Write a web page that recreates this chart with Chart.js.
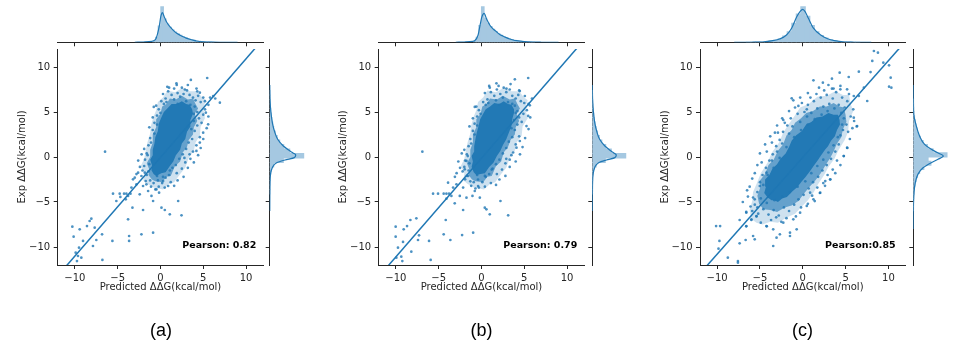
<!DOCTYPE html>
<html><head><meta charset="utf-8">
<script src="https://cdn.jsdelivr.net/npm/chart.js@4.4.1/dist/chart.umd.min.js"></script>
<style>
html,body{margin:0;padding:0;background:#fff;}
#wrap{position:relative;width:955px;height:355px;overflow:hidden;background:#fff;}
#wrap canvas{position:absolute;left:0;top:0;}
.cap{position:absolute;width:60px;margin-left:-30px;text-align:center;font:18px "Liberation Sans",Arial,sans-serif;line-height:18px;color:#000;}
.pear{position:absolute;font:bold 9.5px "DejaVu Sans";line-height:10px;color:#000;white-space:nowrap;}
</style></head><body><div id="wrap"></div>
<script>
// ---------------- DATA ----------------
const tickValues = [-10, -5, 0, 5, 10];
const tickLabels = ['\u221210', '\u22125', '0', '5', '10'];
const axisRange = [-12, 12];
const xTitle = 'Predicted \u0394\u0394G(kcal/mol)';
const yTitle = 'Exp \u0394\u0394G(kcal/mol)';
const panelLabels = ['(a)', '(b)', '(c)'];
const pearsonTexts = ['Pearson: 0.82', 'Pearson: 0.79', 'Pearson:0.85'];

// regression lines (end points read at x = -12 and x = 12)
const regX = [-12, 12];
const regYA = [-13.21, 13.11];
const regYB = [-13.30, 13.02];
const regYC = [-12.95, 12.85];

// dense cores (solid), mid-density and sparse cloud outlines, data coords
const coreA = [[-0.5,-2.1],[-0.8,-1.9],[-1.1,-1.4],[-1.0,-0.9],[-1.2,-0.3],[-0.9,0.2],[-0.9,0.8],[-0.7,1.5],[-0.6,2.2],[-0.3,2.9],[-0.2,3.7],[0.1,4.4],[0.4,5.0],[0.8,5.4],[1.3,5.9],[1.9,5.9],[2.5,6.2],[3.0,5.9],[3.4,5.8],[3.7,5.3],[3.8,4.8],[3.5,4.1],[3.5,3.4],[3.1,2.8],[2.9,2.0],[2.5,1.5],[2.3,0.8],[1.8,0.2],[1.5,-0.5],[1.1,-1.0],[0.6,-1.7],[0.1,-1.8]];
const midA = [[-0.6,-2.7],[-1.0,-2.5],[-1.4,-2.0],[-1.3,-1.4],[-1.6,-0.7],[-1.2,0.0],[-1.2,0.8],[-0.9,1.6],[-0.9,2.5],[-0.5,3.3],[-0.5,4.2],[0.0,4.8],[0.2,5.6],[0.7,5.9],[1.1,6.5],[1.8,6.4],[2.5,6.8],[3.2,6.4],[3.8,6.5],[4.1,5.9],[4.4,5.4],[4.0,4.8],[4.3,4.0],[3.9,3.3],[3.8,2.5],[3.3,1.9],[3.1,1.1],[2.6,0.5],[2.3,-0.5],[1.7,-1.0],[1.2,-2.1],[0.7,-2.2],[0.2,-2.8]];
const cloudA = [[-0.8,-3.4],[-1.5,-3.0],[-2.0,-2.6],[-1.9,-1.8],[-2.3,-1.0],[-1.9,-0.2],[-1.7,0.8],[-1.5,1.7],[-1.2,2.6],[-1.1,3.5],[-0.8,4.5],[-0.5,5.2],[-0.3,6.1],[0.3,6.6],[0.8,7.4],[1.7,7.2],[2.6,7.7],[3.4,7.3],[4.3,7.3],[4.8,6.7],[5.3,6.3],[5.0,5.4],[5.2,4.3],[4.7,3.4],[4.6,2.4],[4.1,1.6],[3.9,0.7],[3.3,-0.1],[2.9,-1.2],[2.3,-1.9],[1.6,-2.8],[1.0,-3.0],[0.3,-3.6]];
const coreB = [[-0.6,-2.0],[-0.9,-1.7],[-1.15,-1.1],[-1.0,-0.5],[-1.15,0.1],[-0.85,0.6],[-0.85,1.2],[-0.7,2.0],[-0.55,2.7],[-0.35,3.4],[-0.15,4.2],[0.2,4.8],[0.5,5.3],[1.0,5.6],[1.5,6.0],[2.1,5.9],[2.6,6.2],[3.1,5.9],[3.5,5.8],[3.8,5.3],[3.8,4.9],[3.6,4.2],[3.5,3.44],[3.2,2.7],[2.9,1.96],[2.5,1.3],[2.2,0.67],[1.8,0.1],[1.4,-0.63],[0.9,-1.1],[0.4,-1.8],[-0.1,-1.9]];
const midB = [[-0.7,-2.7],[-1.1,-2.5],[-1.5,-2.0],[-1.4,-1.4],[-1.7,-0.7],[-1.3,0.0],[-1.3,0.8],[-1.0,1.6],[-1.0,2.5],[-0.6,3.3],[-0.6,4.2],[-0.1,4.8],[0.1,5.6],[0.6,5.9],[1.0,6.5],[1.8,6.4],[2.5,6.8],[3.3,6.4],[3.9,6.5],[4.2,5.9],[4.5,5.4],[4.1,4.8],[4.4,4.0],[4.0,3.3],[3.9,2.5],[3.4,1.9],[3.1,1.1],[2.6,0.5],[2.3,-0.5],[1.7,-1.0],[1.2,-2.1],[0.7,-2.2],[0.2,-2.8]];
const cloudB = [[-0.9,-3.4],[-1.6,-3.0],[-2.1,-2.6],[-2.0,-1.8],[-2.4,-1.0],[-2.0,-0.2],[-1.8,0.8],[-1.6,1.7],[-1.3,2.6],[-1.2,3.5],[-0.9,4.5],[-0.6,5.2],[-0.4,6.1],[0.2,6.6],[0.7,7.4],[1.7,7.2],[2.6,7.7],[3.5,7.3],[4.4,7.3],[4.9,6.7],[5.4,6.3],[5.1,5.4],[5.4,4.3],[4.8,3.4],[4.7,2.4],[4.1,1.6],[3.9,0.7],[3.3,-0.1],[2.9,-1.2],[2.3,-1.9],[1.6,-2.8],[1.0,-3.0],[0.3,-3.6]];
const coreC = [[-3.65,-4.8],[-4.1,-4.5],[-4.5,-4.0],[-4.3,-3.3],[-4.4,-2.5],[-3.9,-2.0],[-3.55,-1.3],[-3.0,-0.8],[-2.6,-0.2],[-2.0,0.4],[-1.6,1.1],[-1.3,1.8],[-0.8,2.4],[-0.1,2.9],[0.4,3.6],[1.0,3.9],[1.6,4.4],[2.3,4.5],[3.0,4.9],[3.6,4.7],[4.1,4.7],[4.3,4.1],[4.35,3.6],[4.0,3.0],[3.75,2.3],[3.3,1.8],[2.95,1.2],[2.6,0.8],[2.15,0.2],[1.8,-0.3],[1.35,-0.9],[0.9,-1.5],[0.35,-2.2],[-0.1,-2.7],[-0.65,-3.35],[-1.2,-3.8],[-1.85,-4.45],[-2.4,-4.6],[-2.9,-5.0],[-3.3,-4.8]];
const midC = [[-4.6,-5.8],[-5.1,-5.2],[-5.3,-4.3],[-5.0,-3.5],[-5.0,-2.6],[-4.4,-1.9],[-4.0,-0.9],[-3.4,-0.3],[-2.9,0.7],[-2.3,1.4],[-1.9,2.4],[-1.3,3.0],[-0.9,3.8],[-0.2,4.3],[0.4,4.9],[1.2,5.1],[2.0,5.6],[2.8,5.6],[3.6,6.0],[4.3,5.6],[4.8,5.5],[5.0,4.7],[5.1,3.9],[4.7,3.1],[4.5,2.2],[4.0,1.5],[3.6,0.6],[3.2,-0.1],[2.6,-1.0],[2.1,-1.8],[1.4,-2.7],[0.8,-3.3],[0.1,-4.1],[-0.5,-4.9],[-1.3,-5.4],[-2.1,-5.6],[-3.0,-6.1],[-3.8,-5.9]];
const cloudC = [[-6.0,-6.9],[-6.2,-5.9],[-5.9,-4.9],[-5.8,-3.9],[-5.4,-3.0],[-4.9,-1.8],[-4.1,-0.6],[-3.6,0.5],[-2.7,1.7],[-2.3,2.7],[-1.6,3.7],[-1.0,4.5],[-0.3,5.5],[0.7,5.9],[1.7,6.7],[2.8,6.8],[3.8,7.3],[4.7,6.9],[5.4,6.9],[5.6,5.9],[5.9,5.1],[5.4,4.0],[5.3,2.8],[4.9,1.9],[4.2,0.8],[3.7,-0.2],[3.0,-1.1],[2.5,-2.0],[1.8,-3.0],[1.3,-3.9],[0.6,-4.8],[-0.1,-5.5],[-0.9,-6.3],[-1.8,-6.7],[-2.9,-7.3],[-3.8,-7.2],[-4.7,-7.5],[-5.4,-7.3]];

// individual points (outliers + cloud fringe)
const pointsA = [[-6.47,0.59],[-0.78,5.56],[1.87,8.19],[3.55,8.56],[5.46,8.78],[1.01,7.7],[2.85,7.5],[4.21,7.6],[4.6,7.15],[5.0,6.6],[6.16,6.78],[6.94,6.04],[5.3,4.93],[5.57,3.63],[4.99,2.7],[4.6,1.6],[4.2,0.67],[-3.2,-2.48],[-2.8,-3.04],[-3.39,-3.4],[-5.54,-4.07],[-4.76,-4.07],[-4.25,-4.07],[-3.98,-4.07],[-3.78,-4.33],[-4.05,-4.7],[-3.5,-4.07],[-2.42,-4.15],[-2.03,-3.22],[-1.64,-3.04],[-1.44,-3.78],[-1.05,-4.33],[-0.47,-3.6],[0.31,-2.67],[0.9,-3.22],[-0.16,-3.96],[-0.86,-4.89],[0.12,-5.63],[0.51,-5.89],[1.09,-6.37],[2.07,-4.89],[2.46,-6.48],[-3.27,-5.63],[-2.03,-5.89],[-3.78,-6.93],[-3.66,-8.78],[-3.66,-9.33],[-2.22,-8.59],[-0.86,-8.41],[-5.61,-9.33],[-6.82,-8.59],[-8.27,-7.11],[-8.07,-6.85],[-8.58,-7.67],[-9.43,-8.04],[-7.68,-7.85],[-10.29,-7.74],[-10.14,-8.85],[-9.51,-10.07],[-9.04,-9.33],[-7.49,-9.22],[-7.88,-9.89],[-9.9,-10.63],[-9.63,-11.0],[-9.24,-11.19],[-6.78,-11.44],[-9.75,-11.56],[-4.68,-4.44],[-5.15,-4.89],[-2.61,-1.74],[-2.22,-2.11],[-1.83,-1.74],[-1.72,-2.67],
[0.3,7.0],[0.6,6.5],[0.9,7.3],[1.3,6.9],[1.6,7.6],[2.0,7.1],[2.3,6.7],[2.7,7.0],[3.1,7.4],[3.4,6.9],[3.8,6.6],[4.1,6.3],[4.4,6.8],[4.7,6.1],[5.2,6.2],[0.1,6.2],[-0.2,5.3],[-0.4,4.6],[-0.7,3.8],[-0.9,3.0],[-1.2,2.1],[-1.4,1.3],[-1.6,0.4],[-1.8,-0.3],[-1.9,-1.0],[-2.1,-1.5],[-1.6,-2.0],[-1.2,-2.6],[-0.8,-2.9],[-0.3,-2.6],[0.2,-2.9],[0.6,-2.3],[1.0,-2.0],[1.4,-1.2],[1.8,-0.9],[2.2,-0.2],[2.6,0.3],[3.0,0.9],[3.3,1.6],[3.7,2.0],[4.0,2.9],[4.3,3.5],[4.5,4.3],[4.3,5.0],[4.0,5.6],[3.9,4.0],[3.6,3.1],[4.8,3.8],[5.0,4.7],[4.6,2.2],[4.2,1.3],[3.8,0.6],[3.5,-0.2],[2.9,-0.6],[2.5,-1.3],[1.9,-1.8],[1.2,-2.8],[0.5,-3.4],[-0.2,-3.3],[-1.4,-1.6],[-2.4,-1.1],[-2.6,-0.4],[-2.2,0.3],[-1.3,3.3],[-0.9,4.4],[-0.5,5.7],[0.4,5.9],[0.8,7.8],[1.9,8.0],[2.5,7.7],[3.2,8.0],[4.3,7.3],[5.6,5.8],[5.8,6.6],[6.4,6.5],[5.2,5.3],[5.6,4.5],[5.4,3.2],[5.0,2.0],[4.7,1.0],[4.4,0.2],[3.9,-0.6],[3.2,-1.2],[2.7,-2.2],[2.0,-2.6],[1.6,-3.2],[-0.6,-3.6],[-1.1,-3.3],[-2.8,-1.9],[-3.0,-2.3],[-1.5,0.2],[-1.3,-0.8],[-1.9,0.9],[-1.1,1.6],[-0.7,2.6],[-0.4,3.6],[0.0,4.9],[0.7,6.1],[1.6,6.4],[3.5,5.8],[3.9,4.8],[3.0,6.2],[2.0,5.9],[1.1,-1.5],[0.3,-2.2],[-0.4,-2.1],[3.4,0.3],[2.8,-0.1]];

const pointsB = [[-6.9,0.59],[-0.78,5.56],[1.75,8.19],[3.9,8.63],[5.46,8.78],[0.97,7.7],[2.92,7.6],[4.48,7.33],[5.07,6.78],[5.65,5.74],[5.46,4.56],[5.26,3.44],[4.48,1.78],[4.09,1.04],[-1.75,-0.44],[-1.95,-1.37],[-1.56,-2.11],[-3.9,-2.85],[-2.92,-3.04],[-3.31,-3.4],[-5.65,-4.07],[-5.07,-4.07],[-4.41,-4.07],[-4.09,-4.07],[-3.78,-4.07],[-3.51,-4.33],[-4.09,-4.63],[-2.14,-3.4],[-2.53,-4.33],[-1.75,-4.52],[-1.05,-4.33],[-0.39,-3.22],[-0.78,-3.78],[-0.19,-4.52],[0.39,-5.63],[0.58,-5.81],[0.97,-6.37],[2.22,-4.89],[3.12,-6.48],[-3.12,-5.15],[-2.14,-5.89],[-4.17,-7.0],[-3.63,-9.22],[-4.41,-8.59],[-2.26,-8.67],[-0.97,-8.41],[-6.12,-9.33],[-7.29,-8.7],[-8.3,-7.0],[-7.6,-6.81],[-8.69,-7.67],[-9.08,-8.04],[-10.02,-7.74],[-10.02,-8.85],[-9.75,-10.07],[-9.16,-9.44],[-7.41,-9.22],[-8.19,-10.52],[-9.94,-11.19],[-9.36,-11.07],[-5.93,-11.44],[-9.24,-11.56],[-1.91,-2.48],
[0.4,7.1],[0.7,6.4],[1.1,7.2],[1.5,6.8],[1.8,7.5],[2.2,7.0],[2.5,6.6],[2.9,7.2],[3.3,7.5],[3.6,6.8],[4.0,6.5],[4.3,6.9],[4.6,6.2],[5.0,6.0],[0.2,6.1],[-0.3,5.2],[-0.5,4.5],[-0.8,3.7],[-1.0,2.9],[-1.3,2.0],[-1.5,1.2],[-1.7,0.3],[-1.9,-0.4],[-2.0,-1.1],[-2.2,-1.6],[-1.7,-2.1],[-1.3,-2.7],[-0.9,-2.8],[-0.4,-2.5],[0.1,-2.8],[0.5,-2.2],[0.9,-1.9],[1.3,-1.3],[1.7,-0.8],[2.1,-0.3],[2.5,0.4],[2.9,1.0],[3.2,1.7],[3.6,2.2],[3.9,3.0],[4.2,3.6],[4.4,4.4],[4.2,5.1],[3.9,5.7],[3.8,4.1],[3.5,3.2],[4.7,3.9],[4.9,4.8],[4.4,2.3],[4.0,1.4],[3.7,0.5],[3.3,-0.3],[2.8,-0.7],[2.4,-1.4],[1.8,-1.9],[1.1,-2.9],[0.4,-3.3],[-0.3,-3.4],[-1.5,-1.5],[-2.5,-1.2],[-2.7,-0.5],[-2.3,0.4],[-1.4,3.4],[-1.0,4.3],[-0.6,5.6],[0.5,5.8],[0.9,7.9],[2.0,7.9],[2.6,7.7],[3.4,8.1],[4.4,7.4],[5.5,5.9],[5.9,6.5],[5.3,5.2],[5.7,4.4],[5.5,3.1],[5.1,2.1],[4.8,1.1],[4.5,0.3],[4.0,-0.5],[3.3,-1.1],[2.8,-2.1],[2.1,-2.5],[1.7,-3.1],[-0.7,-3.5],[-1.2,-3.2],[-2.9,-1.8],[-3.1,-2.2],[-1.6,0.1],[-1.4,-0.7],[-2.0,0.8],[-1.2,1.5],[-0.8,2.5],[-0.5,3.5],[-0.1,4.8],[0.8,6.0],[1.7,6.3],[3.6,5.9],[4.0,4.9],[3.1,6.1],[2.1,5.8],[1.2,-1.4],[0.4,-2.1],[-0.5,-2.0],[3.5,0.2],[2.9,-0.2]];

const pointsC = [[8.31,11.78],[8.78,11.59],[8.12,10.67],[9.41,10.48],[10.08,10.19],[10.27,8.81],[10.08,7.81],[10.35,7.7],[7.92,9.44],[6.55,9.48],[5.37,8.89],[4.31,9.37],[3.41,8.7],[1.25,8.52],[2.35,8.26],[5.18,7.52],[4.39,7.52],[3.41,7.59],[5.96,6.78],[7.53,6.22],[7.14,7.7],[6.55,6.78],[6.35,3.44],[5.96,4.37],[5.18,1.04],[4.78,0.11],[-1.29,6.52],[-0.51,5.67],[0.47,5.3],[-2.27,4.11],[-3.25,2.7],[-4.24,-1.74],[-5.02,-3.22],[-5.61,-4.7],[-6.59,-6.19],[-6.0,-6.93],[-7.37,-7.0],[-6.59,-7.67],[-5.41,-6.56],[-10.12,-7.67],[-9.65,-7.67],[-9.73,-9.33],[-9.84,-10.19],[-8.75,-11.19],[-7.57,-11.56],[-7.57,-11.74],[-7.37,-9.59],[-6.67,-9.22],[-5.8,-8.78],[-5.61,-9.15],[-3.06,-8.96],[-2.67,-8.59],[-1.49,-8.78],[-1.49,-8.41],[-3.45,-8.04],[-4.24,-7.67],[-2.27,-7.3],[-1.1,-6.93],[-0.31,-6.19],[0.47,-5.44],[1.25,-4.7],[2.04,-3.96],[0.86,-3.96],[2.63,-2.67],[3.22,-2.48],[-0.71,-8.04],[-3.45,-9.89],
[0.2,5.0],[0.6,5.8],[1.0,4.9],[1.3,6.2],[1.7,5.4],[2.1,6.6],[2.4,5.6],[2.8,6.9],[3.1,5.9],[3.5,6.5],[3.9,7.2],[4.2,5.8],[4.6,6.6],[4.9,5.5],[5.2,6.2],[4.5,4.9],[4.8,4.3],[5.1,3.6],[4.7,3.0],[4.4,2.4],[5.3,2.8],[5.6,4.5],[5.8,3.2],[3.6,7.6],[2.5,7.4],[1.6,7.0],[0.9,6.6],[-0.1,6.0],[-0.6,4.8],[-0.9,5.5],[-1.4,4.3],[-1.8,3.5],[-2.3,2.8],[-2.7,1.9],[-3.1,1.2],[-3.5,0.3],[-3.9,-0.4],[-4.3,-1.2],[-4.7,-2.0],[-5.0,-2.8],[-5.3,-3.9],[-5.6,-5.3],[-5.9,-6.0],[-5.2,-6.3],[-4.6,-5.8],[-4.0,-6.4],[-3.4,-5.9],[-2.8,-6.5],[-2.2,-5.6],[-1.6,-6.0],[-1.0,-5.3],[-0.5,-4.7],[0.1,-4.2],[0.7,-3.5],[1.2,-2.8],[1.8,-2.2],[2.3,-1.5],[2.8,-0.9],[3.3,-0.2],[3.8,0.6],[4.2,1.4],[4.0,-0.4],[3.5,-1.4],[2.9,-2.0],[2.4,-2.9],[1.7,-3.4],[1.1,-4.3],[-0.2,-5.6],[-0.8,-6.6],[-2.5,-7.2],[-3.7,-7.0],[-4.9,-7.3],[-6.4,-4.4],[-6.2,-3.3],[-5.6,-1.8],[-4.8,-0.6],[-4.2,0.6],[-3.6,1.6],[-2.9,2.7],[-2.1,3.8],[-1.2,3.4],[-0.3,3.9],[0.5,4.5],
[-1.6,2.6],[-2.4,1.5],[-3.0,0.6],[-3.6,-0.4],[-4.1,-2.0],[-4.6,-3.1],[-4.9,-4.6],[-5.3,-5.6],[-4.2,-5.1],[-3.3,-4.8],[-2.4,-4.4],[-1.5,-3.9],[-0.6,-3.3],[0.3,-2.7],[1.0,-1.8],[1.7,-1.0],[2.4,-0.3],[3.0,0.5],[3.6,1.3],[4.1,2.2],[4.6,3.6],[3.7,5.4],[2.9,5.1],[2.2,4.7],[1.4,4.2],[0.6,3.6],[-0.2,3.0],[-1.0,2.2],[-1.9,1.1],[-2.7,-0.1],[-3.4,-1.2],[-5.8,-4.5],[-6.1,-5.5],[-6.6,-6.1],[-6.0,-7.0],[-5.4,-6.6],[-6.6,-7.7],[-4.2,-7.7],[-3.1,-6.7],[-1.9,-6.8],[0.6,-5.2],[1.4,-4.9],[2.0,-4.0],[2.6,-3.2],[3.2,-2.5],[3.8,-1.8],[4.4,-0.9],[4.8,0.1],[5.2,1.0],[5.5,2.0],[6.0,4.0],[6.3,3.4],[5.9,5.3],[5.4,7.0],[4.4,7.9],[3.0,8.0],[1.9,7.7],[0.6,7.1],[-0.3,6.6],[-1.1,6.3],[-1.6,5.1],[-2.4,4.3],[-3.0,3.5],[-3.8,2.3],[-4.4,1.4],[-5.0,0.4],[-5.3,-0.9],[-5.9,-2.4],[-6.5,-3.7],[-7.0,-5.0]];

// top marginal histograms (bin centres, density) and KDE curves
const histTopAx = [-0.735,-0.425,-0.115,0.195,0.505,0.815,1.125,1.435,1.745,2.055,2.365,2.675,2.985,3.295,3.605,3.915,4.225,4.535,4.845,5.155,5.465,5.775,6.085];
const histTopAy = [0.02,0.07,0.23,0.505,0.33,0.26,0.215,0.175,0.145,0.12,0.1,0.08,0.065,0.05,0.038,0.028,0.02,0.014,0.01,0.007,0.005,0.003,0.002];
const kdeTopAx = [-3,-2,-1,-0.8,-0.5,-0.15,0.04,0.23,0.45,0.7,1.1,1.5,1.9,2.3,2.65,3.0,3.4,3.8,4.2,5.0,6.0,7.0,9.0];
const kdeTopAy = [0.001,0.004,0.014,0.021,0.057,0.221,0.363,0.42,0.36,0.292,0.221,0.17,0.128,0.1,0.079,0.06,0.043,0.03,0.018,0.007,0.003,0.001,0];

const histTopBx = [-0.775,-0.465,-0.155,0.155,0.465,0.775,1.085,1.395,1.705,2.015,2.325,2.635,2.945,3.255,3.565,3.875,4.185,4.495,4.805,5.115,5.425,5.735,6.045];
const histTopBy = [0.02,0.07,0.24,0.505,0.34,0.27,0.225,0.185,0.15,0.122,0.1,0.08,0.064,0.05,0.038,0.028,0.02,0.014,0.01,0.007,0.005,0.003,0.002];
const kdeTopBx = [-3,-2,-1,-0.8,-0.4,-0.15,0.05,0.31,0.6,0.97,1.35,1.75,2.1,2.5,2.9,3.3,3.7,4.1,5.0,6.0,7.0,9.0];
const kdeTopBy = [0.001,0.004,0.014,0.021,0.1,0.25,0.36,0.41,0.33,0.245,0.19,0.15,0.115,0.089,0.066,0.047,0.033,0.023,0.009,0.003,0.001,0];

const histTopCx = [-6.325,-5.795,-5.265,-4.735,-4.205,-3.675,-3.145,-2.615,-2.085,-1.555,-1.025,-0.495,0.035,0.565,1.095,1.625,2.155,2.685,3.215,3.745,4.275,4.805,5.335,5.865,6.395];
const histTopCy = [0.001,0.002,0.003,0.005,0.011,0.02,0.032,0.052,0.088,0.15,0.27,0.4,0.505,0.37,0.24,0.15,0.095,0.06,0.036,0.022,0.012,0.006,0.003,0.002,0.001];
const kdeTopCx = [-8,-6,-4.7,-3.5,-2.7,-1.9,-1.3,-0.7,-0.3,0,0.3,0.66,1.25,2.1,2.9,3.7,4.9,6,8];
const kdeTopCy = [0,0.001,0.004,0.023,0.047,0.104,0.2,0.363,0.44,0.468,0.43,0.34,0.2,0.104,0.051,0.023,0.004,0.001,0];

// right marginal histograms (bin centres on Exp axis, density) and KDE curves
const histRightAy = [-3.85,-3.35,-2.85,-2.35,-1.85,-1.35,-0.85,-0.35,0.15,0.65,1.15,1.65,2.15,2.65,3.15,3.65,4.15,4.65,5.15,5.65,6.15,6.65,7.15];
const histRightAd = [0.001,0.002,0.003,0.006,0.01,0.021,0.057,0.193,0.482,0.284,0.199,0.142,0.106,0.078,0.057,0.043,0.031,0.021,0.014,0.009,0.006,0.004,0.003];
const kdeRightAy = [-6,-4,-2.1,-1.18,-0.63,-0.33,-0.07,0.22,0.45,0.67,1.22,1.97,2.8,3.8,5,6.4,8];
const kdeRightAd = [0.001,0.002,0.009,0.037,0.099,0.217,0.349,0.369,0.33,0.288,0.193,0.113,0.07,0.038,0.017,0.004,0.001];

const histRightBy = [-3.85,-3.35,-2.85,-2.35,-1.85,-1.35,-0.85,-0.35,0.15,0.65,1.15,1.65,2.15,2.65,3.15,3.65,4.15,4.65,5.15,5.65,6.15,6.65,7.15];
const histRightBd = [0.001,0.002,0.003,0.005,0.01,0.02,0.055,0.184,0.474,0.27,0.19,0.135,0.1,0.074,0.054,0.04,0.029,0.02,0.013,0.008,0.005,0.003,0.002];
const kdeRightBy = [-6,-4,-2.1,-1.18,-0.63,-0.33,-0.07,0.22,0.45,0.67,1.22,1.97,2.8,3.8,5,6.4,8];
const kdeRightBd = [0.001,0.002,0.008,0.034,0.09,0.2,0.32,0.34,0.305,0.265,0.178,0.104,0.065,0.035,0.016,0.004,0.001];

const histRightCy = [-5.75,-5.29,-4.83,-4.37,-3.91,-3.45,-2.99,-2.53,-2.07,-1.61,-1.15,-0.69,-0.23,0.23,0.69,1.15,1.61,2.07,2.53,2.99,3.45,3.91,4.37,4.83,5.29,5.75,6.21];
const histRightCd = [0.001,0.002,0.004,0.006,0.01,0.017,0.026,0.04,0.06,0.09,0.15,0.25,0.21,0.478,0.28,0.2,0.14,0.1,0.075,0.055,0.04,0.028,0.018,0.01,0.006,0.004,0.002];
const kdeRightCy = [-8,-6,-5.1,-3.96,-2.85,-1.9,-1.2,-0.63,-0.26,0.11,0.49,0.86,1.41,2.33,3.44,4.93,6.5,8];
const kdeRightCd = [0,0.002,0.003,0.01,0.028,0.067,0.138,0.255,0.35,0.425,0.34,0.255,0.16,0.089,0.043,0.004,0.002,0];

// ---------------- LAYOUT / STYLE ----------------
const C0 = '#1f77b4', INK = '#262626', FONT = 'DejaVu Sans', HISTFILL = '#a5c8e1';
const W = 955, H = 355;
const boxes = [
  {left:57.7, right:263.2, spine:269.7, pear:182.3, cap:161},
  {left:378.7, right:584.2, spine:592.3, pear:503.3, cap:481.5},
  {left:700.0, right:905.5, spine:913.3, pear:825.0, cap:802.5}
];
const mainTop = 49, mainBottom = 265, topMargBottom = 42.3, rightMargW = 40;
const topMax = 0.6, rightMax = 0.567;

const panels = [
  {pts:pointsA, core:coreA, mid:midA, cloud:cloudA, regY:regYA, hx:histTopAx, hy:histTopAy, kx:kdeTopAx, ky:kdeTopAy, ry:histRightAy, rd:histRightAd, qy:kdeRightAy, qd:kdeRightAd},
  {pts:pointsB, core:coreB, mid:midB, cloud:cloudB, regY:regYB, hx:histTopBx, hy:histTopBy, kx:kdeTopBx, ky:kdeTopBy, ry:histRightBy, rd:histRightBd, qy:kdeRightBy, qd:kdeRightBd},
  {pts:pointsC, core:coreC, mid:midC, cloud:cloudC, regY:regYC, hx:histTopCx, hy:histTopCy, kx:kdeTopCx, ky:kdeTopCy, ry:histRightCy, rd:histRightCd, qy:kdeRightCy, qd:kdeRightCd}
];

const wrap = document.getElementById('wrap');
function newCtx(){
  const c = document.createElement('canvas');
  c.width = W; c.height = H; c.style.width = W + 'px'; c.style.height = H + 'px';
  wrap.appendChild(c);
  return c.getContext('2d');
}
const xy = a => a.map(p => ({x:p[0], y:p[1]}));
const closed = a => xy(a.concat([a[0]]));
const zip = (xs, ys) => xs.map((x, i) => ({x:x, y:ys[i]}));
const zipR = (ys, ds) => ys.map((y, i) => ({x:ds[i], y:y}));
const setTicks = s => { s.ticks = tickValues.map(v => ({value:v})); };
const fmt = v => { const i = tickValues.indexOf(v); return i >= 0 ? tickLabels[i] : ''; };
const blank = () => '';
const base = {responsive:false, animation:false, events:[], devicePixelRatio:1,
  plugins:{legend:{display:false}, tooltip:{enabled:false}}};
const gridOpts = () => ({display:true, drawOnChartArea:false, drawTicks:true, tickLength:4, tickWidth:1, tickColor:INK, offset:false});
const borderOpts = () => ({display:true, color:INK, width:1});
const tickFont = {family:FONT, size:10};
const shape = (data, alpha, order) => ({type:'line', data:closed(data), fill:'shape', backgroundColor:'rgba(31,119,180,' + alpha + ')', borderWidth:0, pointRadius:0, tension:0, order:order});

panels.forEach((D, i) => {
  const P = boxes[i];
  // main joint scatter
  new Chart(newCtx(), {
    type:'scatter',
    data:{datasets:[
      {type:'line', data:zip(regX, D.regY), borderColor:C0, borderWidth:1.5, pointRadius:0, fill:false, order:0},
      {type:'scatter', data:xy(D.pts), backgroundColor:'rgba(31,119,180,0.8)', pointRadius:1.35, pointBorderWidth:0, borderWidth:0, order:1},
      shape(D.core, 0.95, 2),
      shape(D.mid, 0.6, 3),
      shape(D.cloud, 0.22, 4)
    ]},
    options:Object.assign({}, base, {
      layout:{padding:{left:P.left - 41, right:W - P.right, top:mainTop, bottom:H - mainBottom - 28.5}},
      scales:{
        x:{type:'linear', bounds:'data', min:axisRange[0], max:axisRange[1], afterBuildTicks:setTicks, afterFit:s => { s.height = 28.5; },
           grid:gridOpts(), border:borderOpts(),
           ticks:{autoSkip:false, maxRotation:0, padding:3, color:INK, font:tickFont, callback:fmt},
           title:{display:true, text:xTitle, color:INK, font:tickFont, padding:0}},
        y:{type:'linear', bounds:'data', min:axisRange[0], max:axisRange[1], afterBuildTicks:setTicks, afterFit:s => { s.width = 41; },
           grid:gridOpts(), border:borderOpts(),
           ticks:{autoSkip:false, padding:3.5, color:INK, font:tickFont, callback:fmt},
           title:{display:true, text:yTitle, color:INK, font:tickFont, padding:0}}
      }
    })
  });
  // top marginal
  new Chart(newCtx(), {
    type:'bar',
    data:{datasets:[
      {type:'line', data:zip(D.kx, D.ky), borderColor:C0, borderWidth:1.2, pointRadius:0, fill:false, cubicInterpolationMode:'monotone', order:0},
      {type:'bar', data:zip(D.hx, D.hy), backgroundColor:HISTFILL, borderWidth:0, barPercentage:1, categoryPercentage:1, inflateAmount:0.5, order:1}
    ]},
    options:Object.assign({}, base, {
      layout:{padding:{left:P.left, right:W - P.right, top:0, bottom:H - topMargBottom - 6}},
      scales:{
        x:{type:'linear', bounds:'data', offset:false, min:axisRange[0], max:axisRange[1], afterBuildTicks:setTicks, afterFit:s => { s.height = 6; },
           grid:gridOpts(), border:borderOpts(), ticks:{autoSkip:false, maxRotation:0, color:'rgba(0,0,0,0)', callback:blank}},
        y:{type:'linear', display:false, min:0, max:topMax}
      }
    })
  });
  // right marginal
  new Chart(newCtx(), {
    type:'bar',
    data:{datasets:[
      {type:'line', indexAxis:'y', data:zipR(D.qy, D.qd), borderColor:C0, borderWidth:1.2, pointRadius:0, fill:false, cubicInterpolationMode:'monotone', order:0},
      {type:'bar', indexAxis:'y', data:zipR(D.ry, D.rd), backgroundColor:HISTFILL, borderWidth:0, barPercentage:1, categoryPercentage:1, inflateAmount:0.5, order:1}
    ]},
    options:Object.assign({}, base, {
      indexAxis:'y',
      layout:{padding:{left:P.spine - 5, right:W - (P.spine + rightMargW), top:mainTop, bottom:H - mainBottom}},
      scales:{
        y:{type:'linear', position:'left', bounds:'data', offset:false, min:axisRange[0], max:axisRange[1], afterBuildTicks:setTicks, afterFit:s => { s.width = 5; },
           grid:gridOpts(), border:borderOpts(), ticks:{autoSkip:false, color:'rgba(0,0,0,0)', callback:blank}},
        x:{type:'linear', display:false, min:0, max:rightMax}
      }
    })
  });
  // texts
  const pe = document.createElement('div');
  pe.className = 'pear'; pe.textContent = pearsonTexts[i];
  pe.style.left = P.pear + 'px'; pe.style.top = '240px';
  wrap.appendChild(pe);
  const cp = document.createElement('div');
  cp.className = 'cap'; cp.textContent = panelLabels[i];
  cp.style.left = P.cap + 'px'; cp.style.top = '321px';
  wrap.appendChild(cp);
});
</script>
</body></html>
